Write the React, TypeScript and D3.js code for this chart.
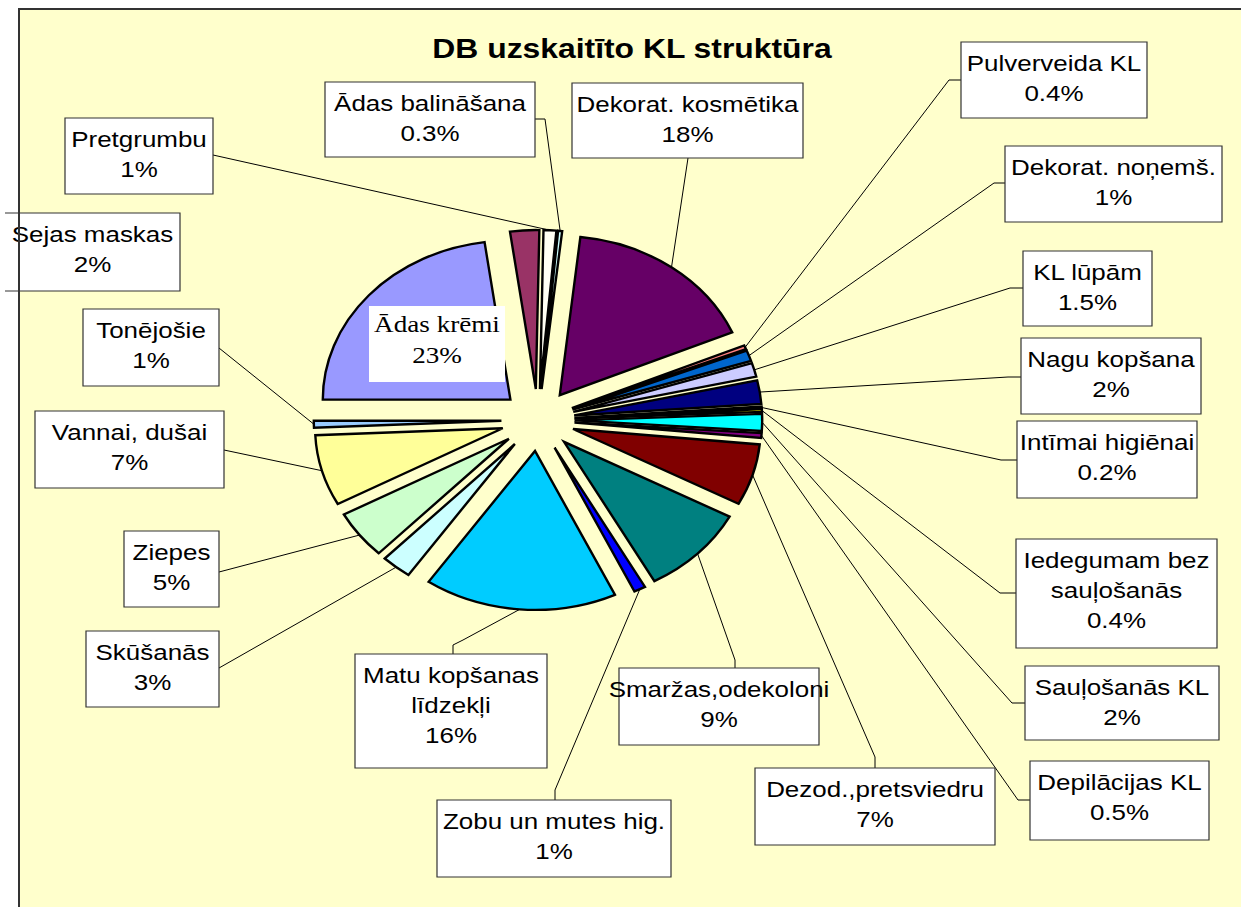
import React from 'react';
import * as d3 from 'd3';

// ---- data (clockwise from the 9 o'clock edge of "Ādas krēmi") ----
const categories: string[] = [
  'Ādas krēmi', 'Sejas maskas', 'Pretgrumbu', 'Ādas balināšana', 'Dekorat. kosmētika',
  'Pulverveida KL', 'Dekorat. noņemš.', 'KL lūpām', 'Nagu kopšana', 'Intīmai higiēnai',
  'Iedegumam bez\nsauļošanās', 'Sauļošanās KL', 'Depilācijas KL', 'Dezod.,pretsviedru',
  'Smaržas,odekoloni', 'Zobu un mutes hig.', 'Matu kopšanas\nlīdzekļi', 'Skūšanās',
  'Ziepes', 'Vannai, dušai', 'Tonējošie',
];
const shares: number[] = [
  22.8, 2.5, 1.1, 0.35, 16.8, 0.4, 1.1, 1.4, 2.4, 0.2, 0.3, 1.7, 0.5, 6.25, 9.2, 1.0, 16.6, 2.6, 4.9, 7.2, 0.7,
];
const shareLabels: string[] = [
  '23%', '2%', '1%', '0.3%', '18%', '0.4%', '1%', '1.5%', '2%', '0.2%', '0.4%', '2%', '0.5%', '7%', '9%', '1%',
  '16%', '3%', '5%', '7%', '1%',
];
const sliceColors: string[] = [
  '#9999FF', '#993366', '#FFFFF4', '#CCFFFF', '#660066', '#FF8080', '#0066CC', '#CCCCFF', '#000080', '#FF00FF',
  '#FFFF00', '#00FFFF', '#800080', '#800000', '#008080', '#0000FF', '#00CCFF', '#CCFFFF', '#CCFFCC', '#FFFF99',
  '#99CCFF',
];
const chartTitle = 'DB uzskaitīto KL struktūra';

// ---- layout ----
type Box = { x: number; y: number; w: number; h: number; from?: [number, number][]; open?: boolean; inside?: boolean };
const boxes: Box[] = [
  { x: 369, y: 306, w: 136, h: 76, inside: true },
  { x: 5, y: 213, w: 175, h: 78, open: true },
  { x: 65, y: 118, w: 148, h: 76, from: [[213, 155]] },
  { x: 325, y: 82, w: 210, h: 75, from: [[535, 119], [545, 119]] },
  { x: 572, y: 83, w: 231, h: 75, from: [[688, 158]] },
  { x: 961, y: 42, w: 186, h: 76, from: [[961, 80], [949, 80]] },
  { x: 1005, y: 146, w: 217, h: 76, from: [[1005, 183], [994, 183]] },
  { x: 1023, y: 251, w: 129, h: 75, from: [[1023, 288], [1010, 288]] },
  { x: 1021, y: 338, w: 180, h: 76, from: [[1021, 377], [1008, 377]] },
  { x: 1017, y: 421, w: 180, h: 77, from: [[1017, 460], [1001, 460]] },
  { x: 1016, y: 539, w: 201, h: 109, from: [[1016, 593], [1000, 593]] },
  { x: 1025, y: 666, w: 194, h: 74, from: [[1025, 703], [1012, 703]] },
  { x: 1030, y: 761, w: 179, h: 79, from: [[1030, 800], [1018, 800]] },
  { x: 755, y: 768, w: 240, h: 77, from: [[875, 768], [875, 757]] },
  { x: 619, y: 668, w: 200, h: 77, from: [[735, 668], [735, 660]] },
  { x: 437, y: 800, w: 234, h: 77, from: [[555, 800], [555, 790]] },
  { x: 355, y: 654, w: 192, h: 114, from: [[453, 654], [453, 645], [463, 640]] },
  { x: 86, y: 631, w: 133, h: 76, from: [[219, 668]] },
  { x: 124, y: 531, w: 95, h: 76, from: [[219, 572]] },
  { x: 35, y: 411, w: 189, h: 77, from: [[224, 450]] },
  { x: 83, y: 309, w: 136, h: 77, from: [[219, 348]] },
];

const W = 1241;
const H = 907;
const cx = 538;
const cy = 420;
const radius = 159;
const explode = 31;
const sx = 1.18; // horizontal stretch of the original picture
const deg = Math.PI / 180;
const startAngle = 270 * deg;

export default function App() {
  const pie = d3
    .pie<number>()
    .sort(null)
    .value((d) => d)
    .startAngle(startAngle)
    .endAngle(startAngle + 2 * Math.PI);
  const arcs = pie(shares);
  const arc = d3.arc<d3.PieArcDatum<number>>().innerRadius(0).outerRadius(radius);

  const lineHeight = 30;
  const fontSize = 22;

  return (
    <svg width={W} height={H} style={{ position: 'absolute', left: 0, top: 0, display: 'block' }}>
      <rect x={0} y={0} width={W} height={H} fill="#FFFFFF" />
      <rect x={19} y={9} width={W + 40} height={H + 40} fill="#FFFFCC" />
      <text
        transform={`translate(632,58) scale(${sx},1)`}
        textAnchor="middle"
        fontFamily="'Liberation Sans', Arial, sans-serif"
        fontWeight="bold"
        fontSize={27}
        fill="#000"
      >
        {chartTitle}
      </text>
      {/* leader lines */}
      {arcs.map((a, i) => {
        const b = boxes[i];
        if (!b.from) return null;
        const mid = (a.startAngle + a.endAngle) / 2;
        const ex = cx + (explode + radius) * Math.sin(mid) * sx;
        const ey = cy - (explode + radius) * Math.cos(mid);
        const pts: [number, number][] = [...b.from, [ex, ey]];
        return (
          <path key={'l' + i} d={d3.line()(pts) || ''} fill="none" stroke="#000" strokeWidth={1} />
        );
      })}
      {/* slices */}
      <g transform={`translate(${cx},${cy}) scale(${sx},1)`}>
        {arcs.map((a, i) => {
          const mid = (a.startAngle + a.endAngle) / 2;
          return (
            <path
              key={'s' + i}
              d={arc(a) || ''}
              transform={`translate(${explode * Math.sin(mid)},${-explode * Math.cos(mid)})`}
              fill={sliceColors[i]}
              stroke="#000"
              strokeWidth={2.4}
              strokeLinejoin="miter"
              vectorEffect="non-scaling-stroke"
            />
          );
        })}
      </g>
      {/* labels */}
      {boxes.map((b, i) => {
        const lines = [...categories[i].split('\n'), shareLabels[i]];
        const tx = b.x + b.w / 2;
        if (b.inside) {
          return (
            <g key={'b' + i}>
              <rect x={b.x} y={b.y} width={b.w} height={b.h} fill="#FFFFFF" />
              {lines.map((t, k) => (
                <text
                  key={k}
                  transform={`translate(${tx},${b.y + 26 + k * 31}) scale(${sx},1)`}
                  textAnchor="middle"
                  fontFamily="'Liberation Serif', 'Times New Roman', serif"
                  fontSize={23}
                  fill="#000"
                >
                  {t}
                </text>
              ))}
            </g>
          );
        }
        const outline = b.open
          ? `M${b.x},${b.y}H${b.x + b.w}V${b.y + b.h}H${b.x}`
          : `M${b.x},${b.y}H${b.x + b.w}V${b.y + b.h}H${b.x}Z`;
        return (
          <g key={'b' + i}>
            <rect x={b.x} y={b.y} width={b.w} height={b.h} fill="#FFFFFF" />
            <path d={outline} fill="none" stroke="#333" strokeWidth={1.2} />
            {lines.map((t, k) => (
              <text
                key={k}
                transform={`translate(${tx},${b.y + 29 + k * lineHeight}) scale(${sx},1)`}
                textAnchor="middle"
                fontFamily="'Liberation Sans', Arial, sans-serif"
                fontSize={fontSize}
                fill="#000"
              >
                {t}
              </text>
            ))}
          </g>
        );
      })}
      {/* chart frame */}
      <rect x={19} y={9} width={W + 40} height={H + 40} fill="none" stroke="#333" strokeWidth={2} />
    </svg>
  );
}
